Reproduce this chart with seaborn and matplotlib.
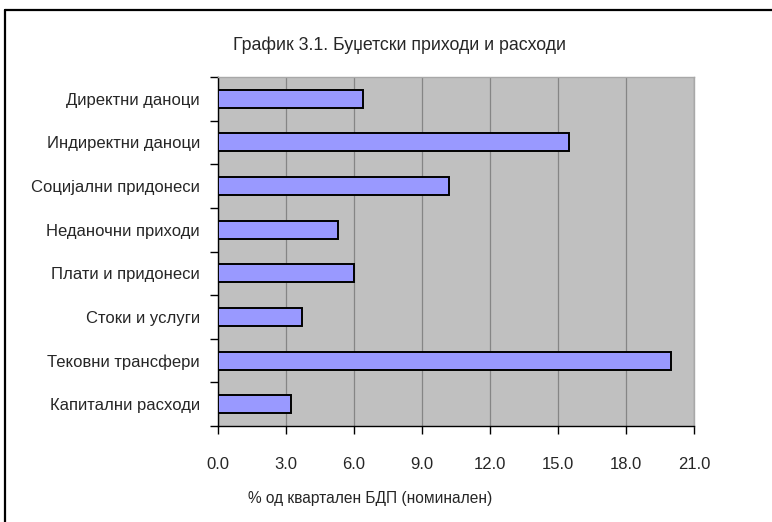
import matplotlib
matplotlib.use("Agg")
import matplotlib.pyplot as plt
from matplotlib.lines import Line2D
from matplotlib.ticker import FixedLocator
import seaborn as sns
import pandas as pd

categories = [
    "Директни даноци",
    "Индиректни даноци",
    "Социјални придонеси",
    "Неданочни приходи",
    "Плати и придонеси",
    "Стоки и услуги",
    "Тековни трансфери",
    "Капитални расходи",
]
values = [6.4, 15.5, 10.2, 5.3, 6.0, 3.7, 20.0, 3.2]
x_ticks = [0.0, 3.0, 6.0, 9.0, 12.0, 15.0, 18.0, 21.0]

title = "График 3.1. Буџетски приходи и расходи"
x_label = "% од квартален БДП (номинален)"

df = pd.DataFrame({"category": categories, "value": values})

sns.set_theme(style="white")
plt.rcParams["font.family"] = ["Liberation Sans", "DejaVu Sans"]
plt.rcParams["font.size"] = 12

W, H = 772, 522
fig = plt.figure(figsize=(W / 100, H / 100), dpi=100)
fig.patch.set_facecolor("white")

left, right, top, bottom = 218, 694, 77, 426
ax = fig.add_axes([left / W, 1 - bottom / H, (right - left) / W, (bottom - top) / H])
ax.set_facecolor("#C0C0C0")

sns.barplot(data=df, x="value", y="category", orient="h", ax=ax,
            color="#9999FF", saturation=1, width=0.41,
            edgecolor="black", linewidth=1.4, zorder=3)

ax.set_xlim(0, 21)
ax.set_ylim(len(categories) - 0.5, -0.5)
ax.set_xticks(x_ticks)
ax.set_xticklabels([f"{t:.1f}" for t in x_ticks], fontsize=12)
ax.xaxis.grid(True, color="#858585", linewidth=0.9, zorder=0)
ax.set_axisbelow(True)

# Category labels sit at bar centres; tick marks fall between categories
ax.tick_params(axis="y", which="major", length=0, pad=13, labelsize=12)
ax.yaxis.set_minor_locator(FixedLocator([i - 0.5 for i in range(len(categories) + 1)]))
ax.tick_params(axis="y", which="minor", length=6, width=1, color="black", direction="out", left=True)
ax.tick_params(axis="x", which="major", length=6, width=1, color="black", direction="out",
               bottom=True, pad=16)

ax.set_xlabel("")
ax.set_ylabel("")

for side in ("left", "bottom"):
    ax.spines[side].set_color("black")
    ax.spines[side].set_linewidth(1.0)
for side in ("right", "top"):
    ax.spines[side].set_color("#a8a8a8")
    ax.spines[side].set_linewidth(1.0)

fig.text(400 / W, 1 - 45 / H, title, ha="center", va="center", fontsize=12.8)
fig.text(370 / W, 1 - 498 / H, x_label, ha="center", va="center", fontsize=11.2)

# Outer frame (left and top edges visible)
fig.add_artist(Line2D([5 / W, 5 / W], [0, 1 - 10 / H], transform=fig.transFigure,
                      color="black", linewidth=1.6))
fig.add_artist(Line2D([5 / W, 1], [1 - 10 / H, 1 - 10 / H], transform=fig.transFigure,
                      color="black", linewidth=1.6))

fig.savefig("out.png", dpi=100)
